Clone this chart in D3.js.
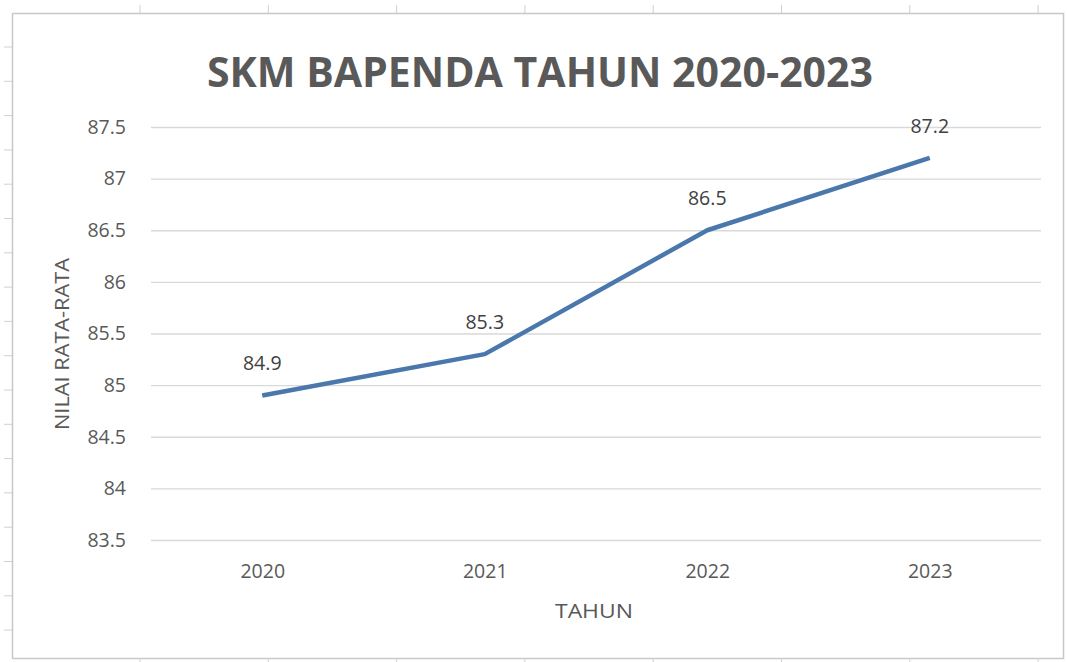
<!DOCTYPE html>
<html>
<head>
<meta charset="utf-8">
<script src="https://cdn.jsdelivr.net/npm/d3@7"></script>
<style>
  body { margin: 0; background: #fff; }
  text { font-family: "Open Sans", "Noto Sans", sans-serif; }
</style>
</head>
<body>
<script>
// Data
const years = ["2020", "2021", "2022", "2023"];
const values = [84.9, 85.3, 86.5, 87.2];
const yTicks = [83.5, 84, 84.5, 85, 85.5, 86, 86.5, 87, 87.5];

const width = 1067;
const height = 662;
const margin = { top: 127, right: 26, bottom: 122, left: 151 };

const svg = d3.select("body")
  .append("svg")
  .attr("width", width)
  .attr("height", height);

// Spreadsheet frame peeking around the chart
const frame = svg.append("g").attr("stroke", "#d0d0d0").attr("fill", "none");
frame.append("rect")
  .attr("x", 12.5).attr("y", 13.5)
  .attr("width", 1051).attr("height", 645)
  .attr("stroke", "#c8c8c8").attr("stroke-width", 1.5);
d3.range(140, 1060, 128.3).forEach(x => {
  frame.append("line").attr("x1", x).attr("x2", x).attr("y1", 5).attr("y2", 13);
  frame.append("line").attr("x1", x).attr("x2", x).attr("y1", 658).attr("y2", 662);
});
d3.range(47, 660, 34.3).forEach(y => {
  frame.append("line").attr("x1", 4).attr("x2", 12).attr("y1", y).attr("y2", y);
});

// Title
svg.append("text")
  .attr("x", 540)
  .attr("y", 87)
  .attr("text-anchor", "middle")
  .attr("fill", "#595959")
  .attr("font-size", 42)
  .attr("font-weight", 700)
  .attr("textLength", 666)
  .attr("lengthAdjust", "spacingAndGlyphs")
  .text("SKM BAPENDA TAHUN 2020-2023");

// Scales
const x = d3.scalePoint()
  .domain(years)
  .range([margin.left, width - margin.right])
  .padding(0.5);

const y = d3.scaleLinear()
  .domain([83.5, 87.5])
  .range([height - margin.bottom, margin.top]);

// Gridlines
svg.append("g")
  .attr("transform", `translate(${margin.left},0)`)
  .call(d3.axisLeft(y).tickValues(yTicks).tickSize(-(width - margin.left - margin.right)).tickFormat(""))
  .call(g => g.select(".domain").remove())
  .call(g => g.selectAll(".tick line").attr("stroke", "#d9d9d9").attr("stroke-width", 1.3));

// Y axis labels
svg.append("g")
  .attr("transform", `translate(${margin.left - 25},0)`)
  .call(d3.axisLeft(y).tickValues(yTicks).tickSize(0).tickPadding(0).tickFormat(d => d))
  .call(g => g.select(".domain").remove())
  .call(g => g.selectAll("text")
    .attr("fill", "#595959")
    .attr("font-size", 19.5)
    .style("font-family", "'Open Sans', sans-serif"));

// X axis labels
svg.append("g")
  .attr("transform", `translate(0,${height - margin.bottom + 24})`)
  .call(d3.axisBottom(x).tickSize(0).tickPadding(0))
  .call(g => g.select(".domain").remove())
  .call(g => g.selectAll("text")
    .attr("fill", "#595959")
    .attr("font-size", 19.5)
    .style("font-family", "'Open Sans', sans-serif"));

// Axis titles
svg.append("text")
  .attr("x", 594)
  .attr("y", 618)
  .attr("text-anchor", "middle")
  .attr("fill", "#595959")
  .attr("font-size", 20)
  .attr("textLength", 78)
  .attr("lengthAdjust", "spacingAndGlyphs")
  .text("TAHUN");

svg.append("text")
  .attr("transform", "translate(69,344) rotate(-90)")
  .attr("text-anchor", "middle")
  .attr("fill", "#595959")
  .attr("font-size", 20)
  .attr("textLength", 172)
  .attr("lengthAdjust", "spacingAndGlyphs")
  .text("NILAI RATA-RATA");

// Line
const line = d3.line()
  .x((d, i) => x(years[i]))
  .y(d => y(d));

svg.append("path")
  .datum(values)
  .attr("fill", "none")
  .attr("stroke", "#4a78ad")
  .attr("stroke-width", 4.5)
  .attr("stroke-linejoin", "round")
  .attr("d", line);

// Data labels
svg.selectAll(".label")
  .data(values)
  .enter()
  .append("text")
  .attr("class", "label")
  .attr("x", (d, i) => x(years[i]))
  .attr("y", d => y(d) - 25)
  .attr("text-anchor", "middle")
  .attr("fill", "#404040")
  .attr("font-size", 19.5)
  .text(d => d);
</script>
</body>
</html>
